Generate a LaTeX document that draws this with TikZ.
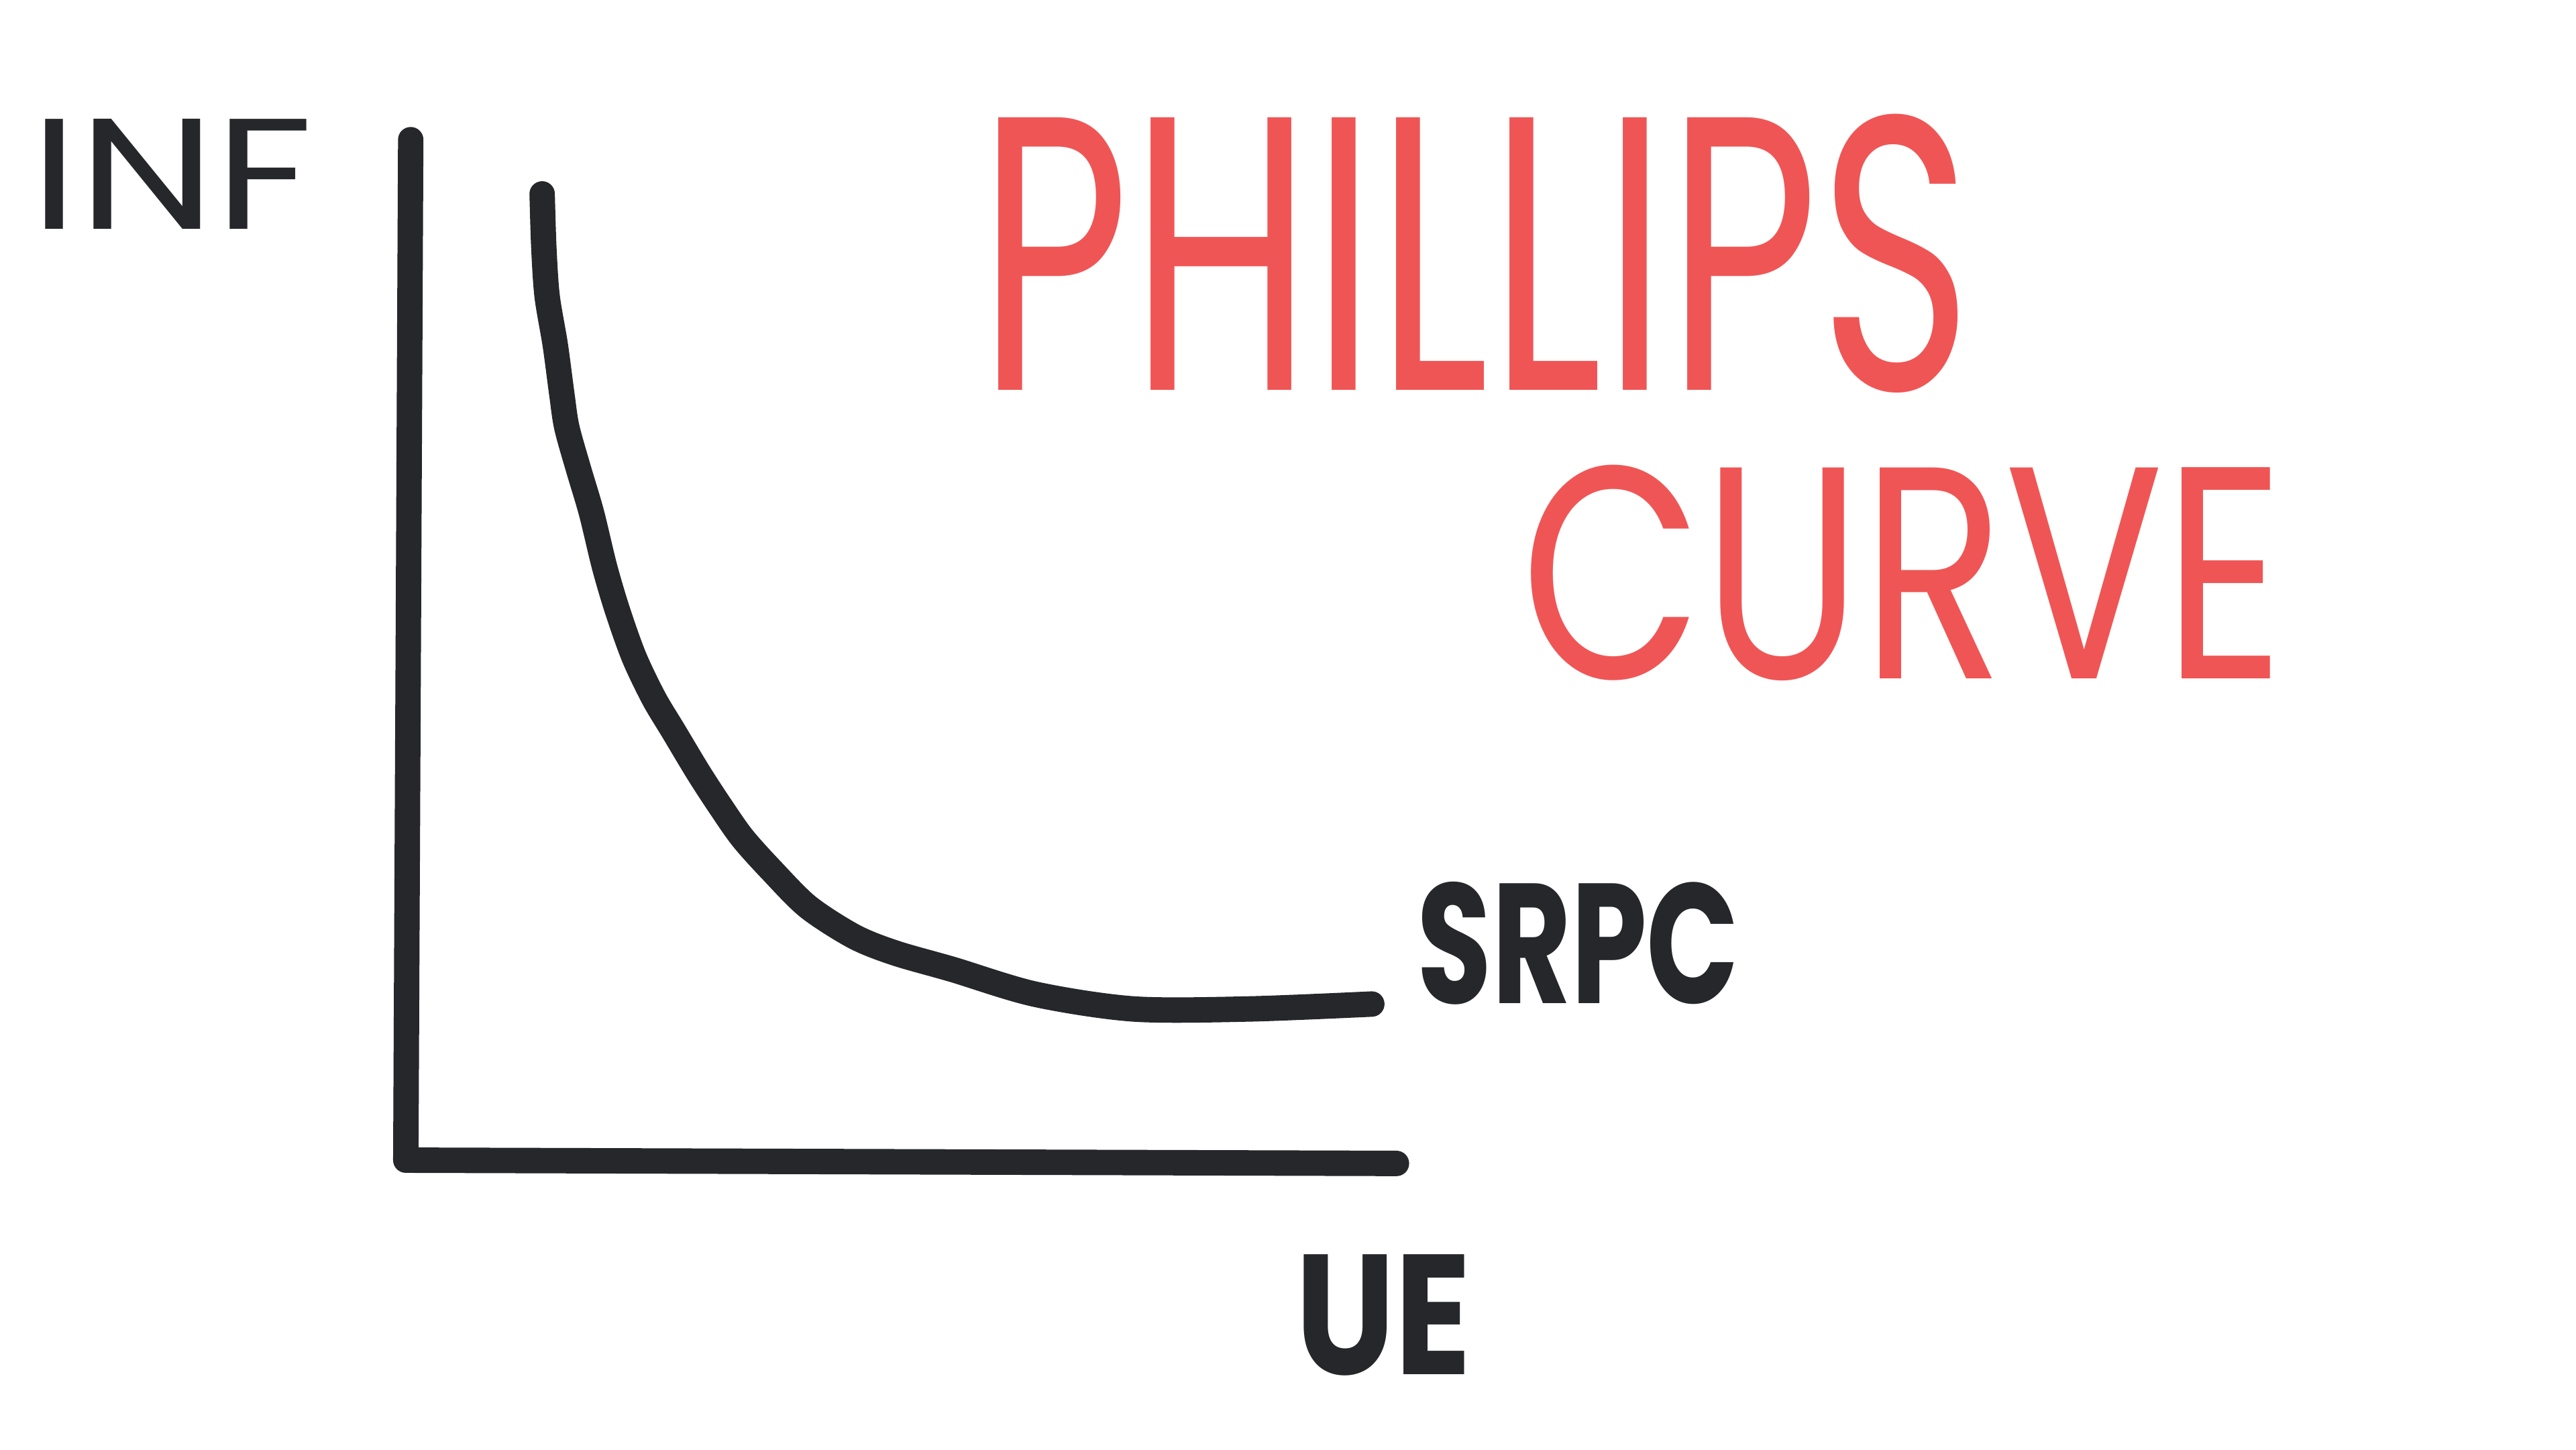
\documentclass[tikz,border=0pt]{standalone}
\usepackage{fontspec}
\setmainfont{Poppins}
\usepackage{graphicx}
\definecolor{ink}{HTML}{26272B}
\definecolor{redink}{HTML}{F05555}
\begin{document}
\begin{tikzpicture}
\tikzset{
  stroke/.style={draw=ink, line width=4.4pt, line cap=round, line join=round},
  lbl/.style={inner sep=0pt, anchor=south west, text=ink},
  boldlbl/.style={lbl, font=\bfseries},
  title/.style={inner sep=0pt, anchor=south west, text=redink}
}
\fill[white] (0,0) rectangle (15.68,8.82);
\useasboundingbox (0,0) rectangle (15.68,8.82);
% axes
\coordinate (ytop) at (2.50,7.97);
\coordinate (origin) at (2.47,1.76);
\coordinate (xend) at (8.50,1.74);
\draw[stroke] (ytop) -- (origin) -- (xend);
% curve
\coordinate (cstart) at (3.30,7.64);
\coordinate (cend) at (8.35,2.71);
\draw[stroke] (cstart) plot[smooth, tension=0.5] coordinates {
 (3.30,7.64) (3.31,7.32) (3.33,7.02) (3.38,6.72) (3.42,6.42) (3.45,6.22)
 (3.52,5.97) (3.60,5.70) (3.68,5.37) (3.76,5.10) (3.86,4.82) (3.98,4.57)
 (4.10,4.37) (4.25,4.12) (4.38,3.92) (4.52,3.72) (4.70,3.52) (4.92,3.30)
 (5.20,3.12) (5.45,3.02) (5.80,2.92) (6.30,2.77) (6.90,2.68) (7.60,2.68) (8.35,2.71)};
% labels
\node[lbl] (inf) at (0.18,7.42) {\resizebox{1.72cm}{0.67cm}{INF}};
\node[boldlbl] (ue) at (7.88,0.44) {\resizebox{1.07cm}{0.73cm}{UE}};
\node[boldlbl] (srpc) at (8.62,2.70) {\resizebox{1.96cm}{0.74cm}{SRPC}};
\node[title] (phillips) at (5.95,6.42) {\resizebox{6.05cm}{1.68cm}{PHILLIPS}};
\node[title] (curve) at (9.25,4.67) {\resizebox{4.65cm}{1.30cm}{CURVE}};
\end{tikzpicture}
\end{document}
